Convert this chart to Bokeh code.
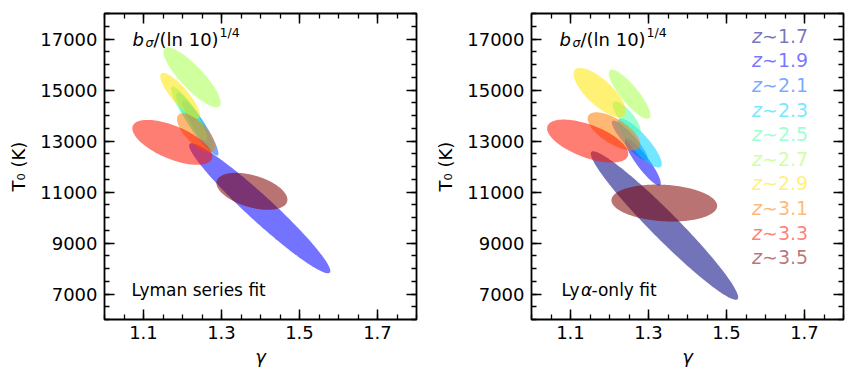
import numpy as np
from bokeh.plotting import figure
from bokeh.models import ColumnDataSource, Label, LinearAxis, FixedTicker
from bokeh.layouts import row
from bokeh.embed import file_html
from bokeh.resources import INLINE

# ---------------- data ----------------
z_labels = ["1.7", "1.9", "2.1", "2.3", "2.5", "2.7", "2.9", "3.1", "3.3", "3.5"]
z_colors = ["#000080", "#0000ff", "#0063ff", "#00d4ff", "#4effa9",
            "#a9ff4e", "#ffe600", "#ff7d00", "#ff1400", "#800000"]

# Lyman series fit (no z~1.7 contour)
lyman_z      = ["1.9", "2.1", "2.3", "2.5", "2.7", "2.9", "3.1", "3.3", "3.5"]
lyman_gamma  = [1.398, 1.246, 1.2315, 1.217, 1.2245, 1.194, 1.235, 1.174, 1.378]
lyman_T0     = [10363, 13507, 13762, 14075, 15498, 14775, 13322, 12946, 11026]
lyman_dgamma = [0.181, 0.046, 0.0475, 0.046, 0.0735, 0.051, 0.049, 0.1026, 0.091]
lyman_dT0    = [2548, 1078, 1137, 1058, 1176, 896, 765, 882, 726]
lyman_rho    = [-0.965, -0.92, -0.90, -0.90, -0.85, -0.85, -0.70, -0.62, -0.45]

# Ly-alpha only fit
lya_z      = ["1.7", "1.9", "2.1", "2.3", "2.5", "2.7", "2.9", "3.1", "3.3", "3.5"]
lya_gamma  = [1.341, 1.2855, 1.252, 1.2775, 1.244, 1.2515, 1.175, 1.2115, 1.144, 1.3405]
lya_T0     = [9685, 12174, 13017, 12918, 13918, 14834, 14898, 13375, 12997, 10567]
lya_dgamma = [0.189, 0.046, 0.046, 0.0565, 0.036, 0.0535, 0.067, 0.0675, 0.104, 0.1355]
lya_dT0    = [2912, 921, 784, 960, 639, 966, 968, 750, 843, 725]
lya_rho    = [-0.967, -0.90, -0.90, -0.85, -0.80, -0.85, -0.75, -0.67, -0.59, -0.15]

x_major = [1.1, 1.3, 1.5, 1.7]
y_major = [7000, 9000, 11000, 13000, 15000, 17000]

FONT = "DejaVu Sans"
ALPHA = 0.55
DY = 6.5  # baseline correction for labels


def ellipse_source(zs, gx, ty, dg, dt, rho):
    t = np.linspace(0, 2 * np.pi, 240)
    xs, ys, cols = [], [], []
    for z, cx, cy, ax, ay, r in zip(zs, gx, ty, dg, dt, rho):
        xs.append(list(cx + ax * np.cos(t)))
        ys.append(list(cy + ay * (r * np.cos(t) + np.sqrt(1 - r * r) * np.sin(t))))
        cols.append(z_colors[z_labels.index(z)])
    return ColumnDataSource(dict(xs=xs, ys=ys, color=cols))


def style_axis(ax, labels=True):
    ax.axis_line_color = None
    ax.major_tick_in = 10
    ax.major_tick_out = 0
    ax.minor_tick_in = 5
    ax.minor_tick_out = 0
    ax.major_tick_line_width = 1.5
    ax.minor_tick_line_width = 1.3
    ax.major_tick_line_color = "black"
    ax.minor_tick_line_color = "black"
    ax.major_label_text_font = FONT
    if labels:
        ax.major_label_text_font_size = "18px"
        ax.major_label_text_color = "black"
    else:
        ax.major_label_text_font_size = "1px"
        ax.major_label_text_color = None
        ax.major_label_standoff = 0


def make_panel(src, border_left, border_right, fit_parts, legend):
    p = figure(frame_width=312, frame_height=306,
               min_border_left=border_left, min_border_right=border_right,
               min_border_top=13, min_border_bottom=55,
               x_range=(1.0, 1.8), y_range=(6000, 18000),
               output_backend="svg", toolbar_location=None)
    p.grid.visible = False
    p.outline_line_color = "black"
    p.outline_line_width = 1.8
    p.background_fill_color = "white"
    p.border_fill_color = "white"

    xt = FixedTicker(ticks=x_major, minor_ticks=[round(1.0 + 0.05 * i, 2) for i in range(17)])
    yt = FixedTicker(ticks=y_major, minor_ticks=[6000 + 500 * i for i in range(25)])

    p.xaxis.ticker = xt
    p.yaxis.ticker = yt
    top = LinearAxis(ticker=xt)
    right = LinearAxis(ticker=yt)
    p.add_layout(top, "above")
    p.add_layout(right, "right")
    for ax in [p.below[0], p.left[0]]:
        style_axis(ax, True)
    for ax in [top, right]:
        style_axis(ax, False)
    p.below[0].major_label_standoff = 6
    p.left[0].major_label_standoff = 7

    p.below[0].axis_label = "γ"
    p.below[0].axis_label_text_font = FONT
    p.below[0].axis_label_text_font_style = "italic"
    p.below[0].axis_label_text_font_size = "18px"
    p.below[0].axis_label_text_color = "black"
    p.below[0].axis_label_standoff = 4

    p.left[0].axis_label = "T₀ (K)"
    p.left[0].axis_label_text_font = FONT
    p.left[0].axis_label_text_font_style = "normal"
    p.left[0].axis_label_text_font_size = "18px"
    p.left[0].axis_label_text_color = "black"
    p.left[0].axis_label_standoff = 8

    p.patches("xs", "ys", source=src, fill_color="color", fill_alpha=ALPHA, line_color=None)

    def lab(x, y, text, size="18px", style="normal", color="black", alpha=1.0):
        p.add_layout(Label(x=x, y=y + DY, x_units="screen", y_units="screen", text=text,
                           text_font=FONT, text_font_size=size, text_font_style=style,
                           text_color=color, text_alpha=alpha,
                           text_align="left", text_baseline="alphabetic"))

    # b_sigma/(ln 10)^{1/4}
    lab(28, 274, "b", style="italic")
    lab(41, 271, "σ", size="12.6px", style="italic")
    lab(49, 274, "/(ln 10)")
    lab(115, 281, "1/4", size="12.6px")

    for (x, text, style) in fit_parts:
        lab(x, 23, text, size="17px", style=style)

    if legend:
        for i, z in enumerate(z_labels):
            y = 277.3 - 24.6 * i
            lab(220.5, y, "z", size="19px", style="italic", color=z_colors[i], alpha=ALPHA)
            lab(230.5, y, "∼" + z, size="19px", color=z_colors[i], alpha=ALPHA)
    return p


src1 = ellipse_source(lyman_z, lyman_gamma, lyman_T0, lyman_dgamma, lyman_dT0, lyman_rho)
src2 = ellipse_source(lya_z, lya_gamma, lya_T0, lya_dgamma, lya_dT0, lya_rho)

p1 = make_panel(src1, 104, 14, [(27, "Lyman series fit", "normal")], False)
p2 = make_panel(src2, 101, 10, [(30, "Ly", "normal"), (49.5, "α", "italic"), (60, "-only fit", "normal")], True)

layout = row(p1, p2)
open("out.html", "w").write(file_html(layout, INLINE))
